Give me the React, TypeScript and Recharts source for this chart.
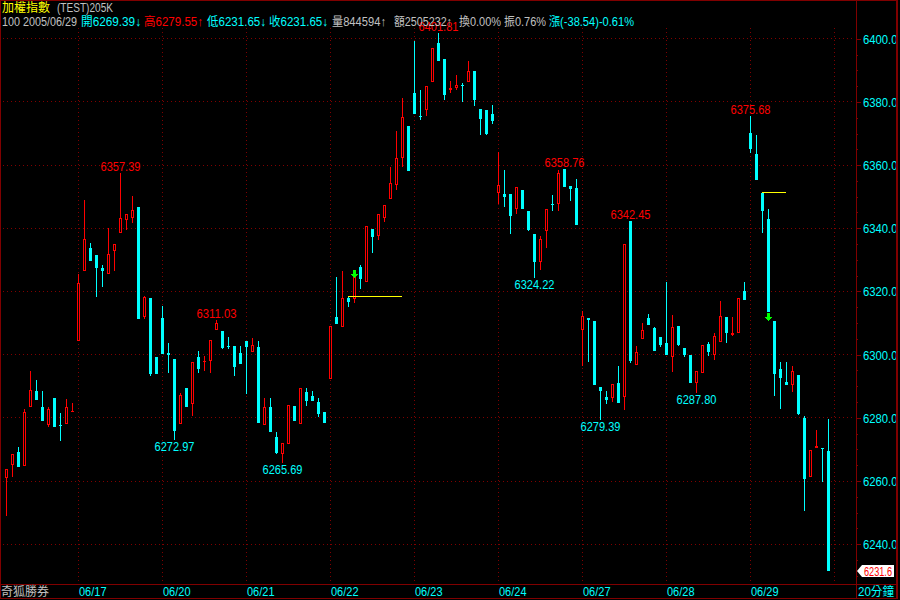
import React from "react";
import { BarChart, Bar, XAxis, YAxis, CartesianGrid, ReferenceLine, ReferenceDot } from "recharts";

// 20-minute K bars, 加權指數, 06/16 (partial) to 06/29
const opens = [
  6260.9, 6265.0, 6269.3, 6264.8, 6283.3, 6288.6, 6283.5, 6277.8, 6286.3, 6277.8, 6277.9, 6281.7,
  6304.4, 6326.4, 6333.9, 6331.4, 6327.4, 6325.5, 6332.9, 6338.5, 6342.7, 6343.3, 6346.6, 6311.8, 6317.9, 6299.1,
  6311.7, 6300.6, 6298.7, 6278.0, 6289.5, 6284.4, 6299.3, 6297.7, 6297.9, 6307.7, 6307.6, 6302.8, 6302.8, 6300.4,
  6304.4, 6300.7, 6302.3, 6277.7, 6283.3, 6274.0, 6268.7, 6271.7, 6283.8, 6278.0, 6288.1, 6287.0, 6284.9, 6281.9,
  6292.3, 6312.0, 6308.7, 6317.9, 6317.6, 6327.9, 6323.0, 6339.8, 6337.7, 6343.3, 6349.3, 6353.7, 6362.3, 6372.5,
  6382.7, 6375.7, 6377.3, 6386.3, 6398.5, 6393.5, 6383.7, 6384.4, 6385.5, 6386.3, 6389.7, 6377.9, 6377.3, 6376.1,
  6351.1, 6350.7, 6350.9, 6346.1, 6352.0, 6345.6, 6338.2, 6329.3, 6339.2, 6347.8, 6347.8, 6358.76, 6353.3, 6352.8,
  6307.8, 6311.5, 6310.5, 6289.8, 6286.7, 6286.3, 6291.1, 6286.5, 6342.45, 6296.7, 6305.0, 6311.5, 6308.3, 6305.7,
  6303.8, 6299.2, 6309.2, 6302.2, 6299.9, 6290.9, 6294.2, 6303.4, 6299.9, 6304.1, 6312.0, 6306.3, 6306.7, 6320.3,
  6370.3, 6363.6, 6351.2, 6343.0, 6310.8, 6295.3, 6291.2, 6290.4, 6293.7, 6280.1, 6261.4, 6270.3, 6270.6, 6269.39,
];
const highs = [
  6263.8, 6268.5, 6270.8, 6282.7, 6294.9, 6292.1, 6288.6, 6283.5, 6286.3, 6281.6, 6286.1, 6284.8,
  6325.4, 6348.8, 6335.5, 6331.4, 6328.5, 6340.0, 6335.1, 6357.39, 6344.6, 6350.1, 6346.6, 6318.5, 6318.0, 6299.1,
  6315.5, 6303.8, 6298.7, 6287.9, 6289.5, 6297.7, 6301.3, 6299.5, 6304.7, 6311.03, 6307.6, 6305.7, 6302.8, 6302.8,
  6304.4, 6305.2, 6304.2, 6286.3, 6286.3, 6275.4, 6272.0, 6284.0, 6283.8, 6289.4, 6289.4, 6288.4, 6286.3, 6281.9,
  6309.2, 6324.5, 6326.6, 6318.2, 6326.6, 6328.5, 6340.7, 6339.8, 6344.6, 6347.4, 6359.4, 6370.7, 6381.3, 6372.5,
  6399.3, 6383.7, 6384.9, 6397.2, 6401.81, 6393.5, 6386.5, 6388.4, 6386.0, 6392.9, 6389.7, 6377.9, 6377.3, 6378.9,
  6364.1, 6358.3, 6350.9, 6353.0, 6352.0, 6345.6, 6338.2, 6337.7, 6346.2, 6350.4, 6358.3, 6358.76, 6353.3, 6355.7,
  6313.9, 6311.5, 6310.5, 6289.8, 6288.4, 6290.8, 6296.5, 6334.9, 6342.45, 6302.8, 6310.1, 6312.9, 6308.9, 6305.7,
  6322.9, 6312.4, 6309.2, 6302.2, 6299.9, 6294.8, 6303.2, 6304.1, 6306.8, 6317.1, 6312.0, 6311.8, 6317.9, 6323.1,
  6375.68, 6369.6, 6351.2, 6346.2, 6310.8, 6297.8, 6297.8, 6296.3, 6293.7, 6280.7, 6269.9, 6276.2, 6270.6, 6279.55,
];
const lows = [
  6248.8, 6261.4, 6264.3, 6264.8, 6283.3, 6285.7, 6278.9, 6277.0, 6277.0, 6272.7, 6277.9, 6281.7,
  6304.4, 6326.4, 6329.6, 6318.2, 6321.3, 6325.5, 6326.4, 6338.5, 6339.6, 6341.6, 6311.2, 6311.2, 6293.3, 6293.8,
  6300.2, 6294.1, 6272.97, 6278.0, 6283.3, 6280.5, 6294.1, 6294.9, 6294.1, 6307.7, 6301.9, 6301.8, 6293.3, 6296.9,
  6287.7, 6300.7, 6278.5, 6277.7, 6275.4, 6268.5, 6265.69, 6271.7, 6278.9, 6278.0, 6283.6, 6285.2, 6280.4, 6278.5,
  6292.3, 6309.7, 6308.7, 6315.0, 6316.3, 6320.7, 6323.0, 6332.1, 6336.4, 6341.9, 6349.3, 6352.0, 6359.4, 6358.1,
  6376.1, 6374.2, 6375.7, 6386.3, 6393.0, 6380.5, 6382.8, 6383.7, 6380.0, 6386.3, 6378.6, 6369.4, 6369.6, 6372.9,
  6347.8, 6346.7, 6338.2, 6344.6, 6346.1, 6339.1, 6324.22, 6326.8, 6333.7, 6345.4, 6345.4, 6353.0, 6348.6, 6341.1,
  6296.5, 6297.8, 6290.5, 6279.39, 6284.4, 6285.1, 6284.7, 6282.6, 6297.2, 6296.7, 6305.0, 6309.5, 6301.0, 6302.3,
  6299.8, 6294.4, 6302.8, 6299.2, 6290.9, 6287.8, 6294.2, 6299.7, 6298.3, 6303.9, 6303.6, 6306.0, 6306.7, 6317.3,
  6363.9, 6355.2, 6338.6, 6313.4, 6287.0, 6282.8, 6290.4, 6288.1, 6281.0, 6250.6, 6261.4, 6270.3, 6259.7, 6231.65,
];
const closes = [
  6263.8, 6268.5, 6264.3, 6281.9, 6288.8, 6285.7, 6278.9, 6282.8, 6277.0, 6277.5, 6283.4, 6282.3,
  6322.8, 6336.7, 6329.6, 6327.4, 6326.4, 6331.9, 6335.1, 6343.3, 6344.6, 6345.9, 6311.2, 6318.2, 6293.9, 6293.8,
  6300.2, 6299.8, 6275.9, 6287.3, 6283.3, 6297.7, 6295.5, 6298.1, 6304.7, 6310.0, 6302.1, 6302.3, 6296.0, 6296.9,
  6302.3, 6303.2, 6278.5, 6283.5, 6275.4, 6269.0, 6272.0, 6284.0, 6278.9, 6289.4, 6285.2, 6285.2, 6281.2, 6278.5,
  6309.2, 6309.7, 6318.0, 6316.6, 6324.5, 6323.9, 6340.7, 6337.2, 6344.6, 6347.4, 6354.4, 6362.3, 6375.3, 6358.1,
  6376.1, 6375.2, 6384.9, 6397.2, 6393.0, 6382.1, 6384.4, 6385.5, 6385.2, 6389.7, 6380.5, 6374.5, 6369.9, 6374.0,
  6353.6, 6349.9, 6343.9, 6353.0, 6346.1, 6339.3, 6329.3, 6336.7, 6346.2, 6347.4, 6357.6, 6353.0, 6352.4, 6341.1,
  6312.3, 6311.1, 6290.5, 6288.4, 6285.8, 6290.8, 6284.7, 6334.9, 6298.1, 6300.9, 6307.8, 6309.5, 6301.0, 6303.2,
  6299.8, 6308.6, 6303.1, 6299.9, 6290.9, 6294.8, 6303.2, 6300.7, 6305.9, 6312.3, 6306.7, 6306.7, 6317.9, 6317.3,
  6365.0, 6355.2, 6345.6, 6313.4, 6293.9, 6292.5, 6290.4, 6294.9, 6281.2, 6260.6, 6269.9, 6271.2, 6270.1, 6231.65,
];

const SLOTS = 142; // bar slots across the plot, the last few are empty
const dayStarts = [12, 26, 40, 54, 68, 82, 96, 110, 124, 138];
const dayLabels = ["06/17", "06/20", "06/21", "06/22", "06/23", "06/24", "06/27", "06/28", "06/29", ""];
const gridPrices = [6240, 6260, 6280, 6300, 6320, 6340, 6360, 6380, 6400];
const axisTicks = [
  6230, 6235, 6240, 6245, 6250, 6255, 6260, 6265, 6270, 6275, 6280, 6285, 6290, 6295, 6300, 6305, 6310, 6315,
  6320, 6325, 6330, 6335, 6340, 6345, 6350, 6355, 6360, 6365, 6370, 6375, 6380, 6385, 6390, 6395, 6400,
];
const highMarks = [19, 35, 72, 93, 104, 124];
const lowMarks = [28, 46, 88, 99, 115];
const arrowBars = [58, 127];
const arrowPrices = [6325.5, 6312.0];
const levelFrom = [57, 126];
const levelTo = [66, 130];
const levelPrices = [6318.4, 6351.2];

// header rows: left, width, colour, text
const header1 = [
  { x: 2, w: 48, color: "#ffff00", text: "加權指數" },
  { x: 57, w: 56, color: "#c0c0c0", text: "(TEST)205K" },
];
const header2 = [
  { x: 2, w: 75, color: "#c0c0c0", text: "100 2005/06/29" },
  { x: 81, w: 60, color: "#00ffff", text: "開6269.39↓" },
  { x: 144, w: 59, color: "#ff0000", text: "高6279.55↑" },
  { x: 207, w: 59, color: "#00ffff", text: "低6231.65↓" },
  { x: 269, w: 59, color: "#00ffff", text: "收6231.65↓" },
  { x: 332, w: 54, color: "#c0c0c0", text: "量844594↑" },
  { x: 394, w: 58, color: "#c0c0c0", text: "額2505232↑" },
  { x: 459, w: 42, color: "#c0c0c0", text: "換0.00%" },
  { x: 504, w: 42, color: "#c0c0c0", text: "振0.76%" },
  { x: 549, w: 85, color: "#00ffff", text: "漲(-38.54)-0.61%" },
];

const RED = "#ff0000";
const CYAN = "#00ffff";
const GREY = "#c0c0c0";
const YELLOW = "#ffff00";
const GREEN = "#00ff00";
const MAROON = "#800000";
const FONT = '"Liberation Sans", "Noto Sans CJK TC", sans-serif';
const DIGIT_W = 5.7;

const data = Array.from({ length: SLOTS }, (_, i) =>
  i < opens.length
    ? { i, open: opens[i], high: highs[i], low: lows[i], close: closes[i], range: [lows[i], highs[i]] }
    : { i, range: null }
);

const Txt = ({ x, y, w, color, anchor, size = 12.5, children }: any) => (
  <text
    x={x}
    y={y}
    fill={color}
    fontSize={size}
    fontFamily={FONT}
    textAnchor={anchor || "start"}
    textLength={w}
    lengthAdjust="spacingAndGlyphs"
  >
    {children}
  </text>
);

const Candle = (props: any) => {
  const { x, y, width, height, payload } = props;
  if (!payload || payload.open == null || x == null) return null;
  const { open, high, low, close, i } = payload;
  const top = Math.min(y, y + height);
  const span = Math.abs(height);
  const toY = (v: number) => Math.round(high === low ? top : top + ((high - v) / (high - low)) * span);
  const cx = Math.floor(x + width / 2);
  const yH = toY(high);
  const yL = toY(low);
  const yO = toY(open);
  const yC = toY(close);
  const bTop = Math.min(yO, yC);
  const bBot = Math.max(yO, yC);
  const up = close >= open;

  let body;
  if (up) {
    body = (
      <>
        {yH < bTop && <rect x={cx} y={yH} width={1} height={bTop - yH} fill={RED} />}
        {bBot < yL && <rect x={cx} y={bBot} width={1} height={yL - bBot} fill={RED} />}
        {bBot - bTop >= 3 ? (
          <rect x={cx - 0.5} y={bTop + 0.5} width={2} height={bBot - bTop - 1} fill="#000" stroke={RED} strokeWidth={1} />
        ) : (
          <rect x={cx - 1} y={bTop} width={3} height={Math.max(bBot - bTop, 1)} fill={RED} />
        )}
      </>
    );
  } else {
    body = (
      <>
        <rect x={cx} y={yH} width={1} height={Math.max(yL - yH, 1)} fill={CYAN} />
        <rect x={cx - 1} y={bTop} width={3} height={Math.max(bBot - bTop, 1)} fill={CYAN} />
      </>
    );
  }

  return (
    <g shapeRendering="crispEdges">
      {body}
      {highMarks.includes(i) && (
        <Txt x={cx + 0.5} y={yH - 2} w={7 * DIGIT_W} color={RED} anchor="middle">
          {high.toFixed(2)}
        </Txt>
      )}
      {lowMarks.includes(i) && (
        <Txt x={cx + 0.5} y={yL + 11} w={7 * DIGIT_W} color={CYAN} anchor="middle">
          {low.toFixed(2)}
        </Txt>
      )}
    </g>
  );
};

const Arrow = (props: any) => {
  const { cx, cy } = props;
  if (cx == null || cy == null) return null;
  const x = Math.floor(cx);
  const y = Math.round(cy);
  return (
    <g shapeRendering="crispEdges">
      <rect x={x - 1} y={y - 4} width={3} height={4} fill={GREEN} />
      <path d={`M${x - 3},${y} L${x + 4},${y} L${x + 0.5},${y + 4} Z`} fill={GREEN} />
    </g>
  );
};

const PriceTick = (props: any) => {
  const { x, y, payload } = props;
  const v = payload.value;
  const major = gridPrices.includes(v);
  const ax = Math.round(x) + 1;
  const yy = Math.round(y);
  return (
    <g>
      <rect x={ax} y={yy} width={major ? 5 : 2} height={1} fill={MAROON} shapeRendering="crispEdges" />
      {major && (
        <Txt x={ax + 7} y={yy + 5} w={34.5} color={CYAN}>
          {v.toFixed(1)}
        </Txt>
      )}
    </g>
  );
};

const DateTick = (props: any) => {
  const { x, y, payload } = props;
  const k = dayStarts.indexOf(payload.value);
  if (k < 0 || !dayLabels[k]) return null;
  return (
    <Txt x={x + 1} y={y + 12} w={27.5} color={CYAN}>
      {dayLabels[k]}
    </Txt>
  );
};

const PriceTag = (props: any) => {
  const vb = props.viewBox;
  if (!vb) return null;
  const left = Math.round(vb.x + vb.width) + 1;
  const yy = Math.round(vb.y);
  return (
    <g>
      <path
        d={`M${left + 1},${yy} L${left + 6},${yy - 6} L${left + 38},${yy - 6} L${left + 38},${yy + 6} L${left + 6},${yy + 6} Z`}
        fill="#ffffff"
      />
      <Txt x={left + 8} y={yy + 5} w={28} color={RED}>
        {closes[closes.length - 1].toFixed(1)}
      </Txt>
    </g>
  );
};

// grid lines placed through the axes' own scales, snapped to whole pixels
const applyScale = (s: any, v: number): number => {
  if (!s) return NaN;
  if (typeof s === "function") return s(v);
  if (typeof s.map === "function") return s.map(v);
  if (typeof s.apply === "function") return s.apply(v);
  return NaN;
};
const dayLines = (args: any) => {
  try {
    const s = args && args.xAxis && args.xAxis.scale;
    const step = applyScale(s, 1) - applyScale(s, 0);
    const band = s && typeof s.bandwidth === "function" ? s.bandwidth() : step;
    return dayStarts
      .map((d) => Math.floor(applyScale(s, d) + band / 2) + 0.5)
      .filter((v) => Number.isFinite(v));
  } catch (e) {
    return [];
  }
};
const priceLines = (args: any) => {
  try {
    const s = args && args.yAxis && args.yAxis.scale;
    return gridPrices.map((p) => Math.floor(applyScale(s, p)) + 0.5).filter((v) => Number.isFinite(v));
  } catch (e) {
    return [];
  }
};

const line = (style: React.CSSProperties) => (
  <div style={{ position: "absolute", background: MAROON, ...style }} />
);

export default function App() {
  return (
    <div style={{ position: "fixed", left: 0, top: 0, width: 900, height: 600, background: "#000", overflow: "hidden" }}>
      <BarChart width={900} height={600} data={data} margin={{ top: 28, right: 0, bottom: 0, left: 3 }}>
        <CartesianGrid
          stroke={MAROON}
          strokeDasharray="1 3"
          verticalCoordinatesGenerator={dayLines}
          horizontalCoordinatesGenerator={priceLines}
        />
        <XAxis
          dataKey="i"
          type="category"
          ticks={dayStarts.slice(0, 9)}
          interval={0}
          height={16}
          axisLine={false}
          tickLine={false}
          tickSize={0}
          tickMargin={0}
          tick={<DateTick />}
        />
        <YAxis
          orientation="right"
          width={45}
          type="number"
          domain={[6227.4, 6403.4]}
          ticks={axisTicks}
          interval={0}
          axisLine={false}
          tickLine={false}
          tickSize={0}
          tickMargin={0}
          tick={<PriceTick />}
        />
        <Bar dataKey="range" barSize={3} isAnimationActive={false} shape={<Candle />} />
        {levelFrom.map((f, k) => (
          <ReferenceLine
            key={`l${k}`}
            segment={[
              { x: f, y: levelPrices[k] },
              { x: levelTo[k], y: levelPrices[k] },
            ]}
            stroke={YELLOW}
            shapeRendering="crispEdges"
          />
        ))}
        {arrowBars.map((b, k) => (
          <ReferenceDot key={`a${k}`} x={b} y={arrowPrices[k]} shape={<Arrow />} />
        ))}
        <ReferenceLine y={closes[closes.length - 1]} stroke="none" label={<PriceTag />} />
      </BarChart>

      {line({ left: 0, top: 0, width: 898, height: 1 })}
      {line({ left: 0, top: 0, width: 1, height: 599 })}
      {line({ left: 896, top: 0, width: 2, height: 599 })}
      {line({ left: 0, top: 598, width: 898, height: 1 })}
      {line({ left: 856, top: 0, width: 1, height: 599 })}
      {line({ left: 0, top: 584, width: 898, height: 1 })}

      <svg width={900} height={600} style={{ position: "absolute", left: 0, top: 0, pointerEvents: "none" }}>
        {header1.map((s) => (
          <Txt key={s.text} x={s.x} y={12} w={s.w} color={s.color}>
            {s.text}
          </Txt>
        ))}
        {header2.map((s) => (
          <Txt key={s.text} x={s.x} y={25.5} w={s.w} color={s.color}>
            {s.text}
          </Txt>
        ))}
        <Txt x={1} y={596} w={48} color={GREY}>
          奇狐勝券
        </Txt>
        <Txt x={858} y={596} w={36} color={CYAN}>
          20分鐘
        </Txt>
      </svg>
    </div>
  );
}
